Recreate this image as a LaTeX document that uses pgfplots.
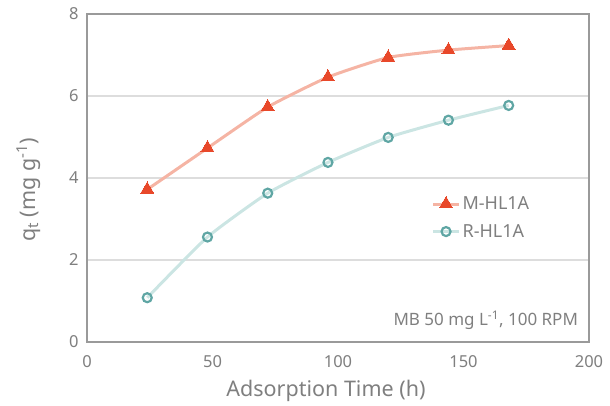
\documentclass[border=0pt]{standalone}
\usepackage{pgfplots}
\pgfplotsset{compat=1.18}
\usepackage{fontspec}
\setmainfont{Noto Sans}
\definecolor{txtgray}{HTML}{7F7F7F}
\definecolor{framegray}{HTML}{9A9A9A}
\definecolor{gridgray}{HTML}{DDDDDD}
\definecolor{mmark}{HTML}{E8482A}
\definecolor{mline}{HTML}{F5B4A4}
\definecolor{rmark}{HTML}{5FA6A4}
\definecolor{rline}{HTML}{CBE5E3}
\begin{document}
\begin{tikzpicture}
\useasboundingbox (-87pt,-64pt) rectangle (523pt,342pt);
\begin{axis}[
  scale only axis,
  width=502pt, height=328pt,
  xmin=0, xmax=200, ymin=0, ymax=8,
  xtick={0,50,100,150,200},
  ytick={0,2,4,6,8},
  ymajorgrids,
  major grid style={gridgray, line width=1.2pt},
  axis line style={framegray, line width=1.5pt},
  tick style={draw=none},
  /pgf/number format/assume math mode=true,
  tick label style={font=\fontsize{16.5}{19}\selectfont, text=txtgray},
  xticklabel style={yshift=-10pt},
  yticklabel style={xshift=-5pt},
  xlabel={Adsorption Time (h)},
  ylabel={q\textsubscript{t} (mg g\textsuperscript{-1})},
  label style={font=\fontsize{21.5}{25}\selectfont, text=txtgray},
  xlabel style={yshift=-6pt, xshift=-12pt},
  ylabel style={yshift=22pt, xshift=-12pt},
  legend style={draw=none, fill=none, at={(rel axis cs:0.68,0.455)}, anchor=north west,
    font=\fontsize{18}{21}\selectfont, text=txtgray, row sep=9pt},
  legend cell align=left,
  legend image code/.code={
    \draw[#1, mark repeat=2, mark phase=2] plot coordinates {(0pt,0pt) (13pt,0pt) (26pt,0pt)};
  },
]
\addplot[mline, line width=3pt, smooth, tension=0.3,
  mark=triangle*, mark size=7.5pt, mark options={mmark, fill=mmark, line width=0pt}]
  coordinates {(24,3.72) (48,4.73) (72,5.73) (96,6.46) (120,6.94) (144,7.12) (168,7.23)};
\addlegendentry{M-HL1A}
\addplot[rline, line width=3pt, smooth, tension=0.3,
  mark=o, mark size=4.5pt, mark options={rmark, fill=white, line width=2.2pt}]
  coordinates {(24,1.08) (48,2.56) (72,3.63) (96,4.38) (120,4.99) (144,5.41) (168,5.77)};
\addlegendentry{R-HL1A}
\node[anchor=base east, text=txtgray, font=\fontsize{17}{20}\selectfont]
  at (rel axis cs:0.985,0.05) {MB 50 mg L\textsuperscript{-1}, 100 RPM};
\draw[framegray, line width=1.5pt] (rel axis cs:0,0) rectangle (rel axis cs:1,1);
\end{axis}
\end{tikzpicture}
\end{document}
